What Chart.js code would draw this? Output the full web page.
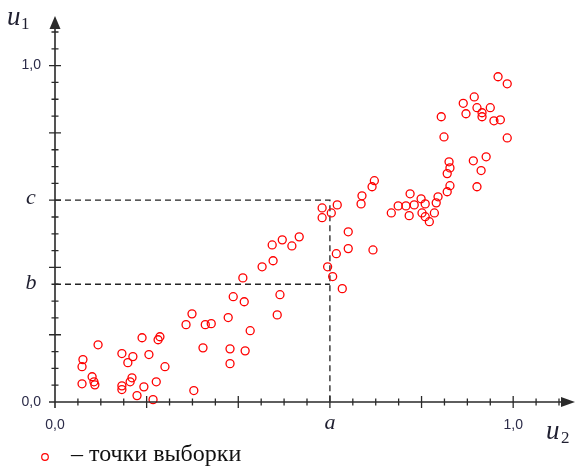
<!DOCTYPE html>
<html>
<head>
<meta charset="utf-8">
<script src="https://cdn.jsdelivr.net/npm/chart.js@4/dist/chart.umd.min.js"></script>
<style>
  html, body { margin: 0; padding: 0; background: #fff; }
  #wrap { width: 581px; height: 466px; }
</style>
</head>
<body>
<div id="wrap"><canvas id="chart" width="581" height="466"></canvas></div>
<script>
// значения u2 (ось x) и u1 (ось y) для точек выборки
const u2Values = [
  0.094, 0.061, 0.059, 0.059, 0.081, 0.085, 0.087, 0.146, 0.159, 0.170,
  0.168, 0.164, 0.146, 0.146, 0.179, 0.194, 0.190, 0.205, 0.221, 0.214,
  0.225, 0.229, 0.240, 0.299, 0.286, 0.328, 0.341, 0.323, 0.303, 0.378,
  0.382, 0.382, 0.415, 0.426, 0.389, 0.413, 0.410, 0.452, 0.476, 0.474,
  0.496, 0.517, 0.533, 0.491, 0.485, 0.583, 0.603, 0.583, 0.616, 0.595,
  0.606, 0.614, 0.640, 0.640, 0.627, 0.694, 0.697, 0.692, 0.670, 0.668,
  0.734, 0.749, 0.766, 0.775, 0.773, 0.784, 0.799, 0.808, 0.801, 0.808,
  0.817, 0.828, 0.832, 0.836, 0.856, 0.862, 0.856, 0.862, 0.860, 0.921,
  0.913, 0.941, 0.930, 0.967, 0.987, 0.915, 0.891, 0.897, 0.921, 0.932,
  0.932, 0.950, 0.958, 0.972, 0.843, 0.849, 0.987
];
const u1Values = [
  0.170, 0.126, 0.105, 0.054, 0.075, 0.060, 0.051, 0.144, 0.117, 0.135,
  0.072, 0.060, 0.048, 0.037, 0.019, 0.045, 0.191, 0.141, 0.060, 0.007,
  0.185, 0.194, 0.105, 0.262, 0.230, 0.230, 0.233, 0.161, 0.034, 0.251,
  0.158, 0.114, 0.152, 0.212, 0.313, 0.298, 0.369, 0.402, 0.420, 0.467,
  0.482, 0.464, 0.491, 0.319, 0.259, 0.577, 0.562, 0.548, 0.586, 0.402,
  0.373, 0.441, 0.506, 0.456, 0.337, 0.452, 0.658, 0.640, 0.613, 0.589,
  0.562, 0.583, 0.583, 0.619, 0.554, 0.586, 0.604, 0.589, 0.562, 0.551,
  0.536, 0.562, 0.592, 0.610, 0.625, 0.643, 0.679, 0.696, 0.714, 0.640,
  0.717, 0.729, 0.688, 0.967, 0.946, 0.907, 0.888, 0.857, 0.875, 0.860,
  0.848, 0.875, 0.836, 0.839, 0.848, 0.788, 0.785
];

// отметки a, b, c
const aValue = 0.6;
const bValue = 0.35;
const cValue = 0.6;

// подписи делений
const xTickLabels = [{ v: 0, t: '0,0' }, { v: 1, t: '1,0' }];
const yTickLabels = [{ v: 0, t: '0,0' }, { v: 1, t: '1,0' }];
const seriesLabel = '– точки выборки';

const points = u2Values.map((x, i) => ({ x: x, y: u1Values[i] }));

// оси со стрелками, деления и подписи
const axesPlugin = {
  id: 'axesPlugin',
  afterDatasetsDraw(chart) {
    const ctx = chart.ctx;
    const xs = chart.scales.x, ys = chart.scales.y;
    const x0 = xs.getPixelForValue(0), y0 = ys.getPixelForValue(0);
    const ink = '#2a2a2a';
    ctx.save();
    ctx.strokeStyle = ink;
    ctx.fillStyle = ink;

    // линии осей
    ctx.lineWidth = 1.6;
    ctx.beginPath();
    ctx.moveTo(x0 - 6, y0); ctx.lineTo(563, y0);
    ctx.moveTo(x0, y0 + 6); ctx.lineTo(x0, 27);
    ctx.stroke();
    // стрелки
    ctx.beginPath();
    ctx.moveTo(575, y0); ctx.lineTo(561, y0 - 5); ctx.lineTo(561, y0 + 5); ctx.closePath();
    ctx.fill();
    ctx.beginPath();
    ctx.moveTo(x0, 16); ctx.lineTo(x0 - 5.5, 29); ctx.lineTo(x0 + 5.5, 29); ctx.closePath();
    ctx.fill();

    // деления через 0,05, крупные через 0,2
    ctx.lineWidth = 1.3;
    ctx.beginPath();
    for (let i = 1; i <= 22; i++) {
      const v = i * 0.05;
      const len = i % 4 === 0 ? 6 : 3.5;
      const px = xs.getPixelForValue(v);
      ctx.moveTo(px, y0 - len); ctx.lineTo(px, y0 + len);
      const py = ys.getPixelForValue(v);
      ctx.moveTo(x0 - len, py); ctx.lineTo(x0 + len, py);
    }
    ctx.stroke();

    // числовые подписи
    ctx.fillStyle = '#2b2b48';
    ctx.font = '14px "Liberation Sans", Arial, sans-serif';
    ctx.textBaseline = 'middle';
    ctx.textAlign = 'right';
    yTickLabels.forEach(l => ctx.fillText(l.t, 41, ys.getPixelForValue(l.v)));
    ctx.textAlign = 'center';
    xTickLabels.forEach(l => ctx.fillText(l.t, xs.getPixelForValue(l.v), y0 + 23));

    // буквенные подписи
    ctx.fillStyle = '#1f1f30';
    ctx.font = 'italic 22px "Liberation Serif", "DejaVu Serif", serif';
    ctx.textAlign = 'center';
    ctx.fillText('a', xs.getPixelForValue(aValue), y0 + 21);
    ctx.fillText('c', 31, ys.getPixelForValue(cValue) - 2);
    ctx.fillText('b', 31, ys.getPixelForValue(bValue) - 1);

    // u1 и u2
    ctx.textAlign = 'left';
    ctx.textBaseline = 'alphabetic';
    ctx.font = 'italic 27px "Liberation Serif", "DejaVu Serif", serif';
    ctx.fillText('u', 7, 25);
    ctx.fillText('u', 546, 439);
    ctx.font = '17px "Liberation Serif", "DejaVu Serif", serif';
    ctx.fillText('1', 21, 29);
    ctx.fillText('2', 561, 443);

    // легенда
    const ds = chart.data.datasets[0];
    ctx.strokeStyle = ds.borderColor;
    ctx.lineWidth = 1.2;
    ctx.beginPath();
    ctx.arc(45, 457, 3.3, 0, Math.PI * 2);
    ctx.stroke();
    ctx.fillStyle = '#111';
    ctx.font = '24px "Liberation Serif", "DejaVu Serif", serif';
    ctx.textBaseline = 'middle';
    ctx.fillText(ds.label, 71, 455);
    ctx.restore();
  }
};

new Chart(document.getElementById('chart').getContext('2d'), {
  type: 'scatter',
  data: {
    datasets: [{
      label: seriesLabel,
      data: points,
      pointStyle: 'circle',
      pointRadius: 4,
      pointBorderWidth: 1.3,
      borderColor: 'rgb(255, 0, 0)',
      backgroundColor: 'rgba(255, 255, 255, 0)',
      clip: false
    }, {
      type: 'line',
      label: 'c',
      data: [{ x: 0, y: cValue }, { x: aValue, y: cValue }, { x: aValue, y: 0 }],
      borderColor: '#222',
      borderWidth: 1.3,
      borderDash: [6, 4],
      pointRadius: 0,
      fill: false,
      tension: 0
    }, {
      type: 'line',
      label: 'b',
      data: [{ x: 0, y: bValue }, { x: aValue, y: bValue }],
      borderColor: '#222',
      borderWidth: 1.3,
      borderDash: [6, 4],
      pointRadius: 0,
      fill: false,
      tension: 0
    }]
  },
  options: {
    responsive: false,
    animation: false,
    layout: { padding: { left: 55, right: 22, top: 32, bottom: 64 } },
    scales: {
      x: { type: 'linear', min: 0, max: 1.1, display: false },
      y: { type: 'linear', min: 0, max: 1.1, display: false }
    },
    plugins: {
      legend: { display: false },
      tooltip: { enabled: false }
    }
  },
  plugins: [axesPlugin]
});
</script>
</body>
</html>
